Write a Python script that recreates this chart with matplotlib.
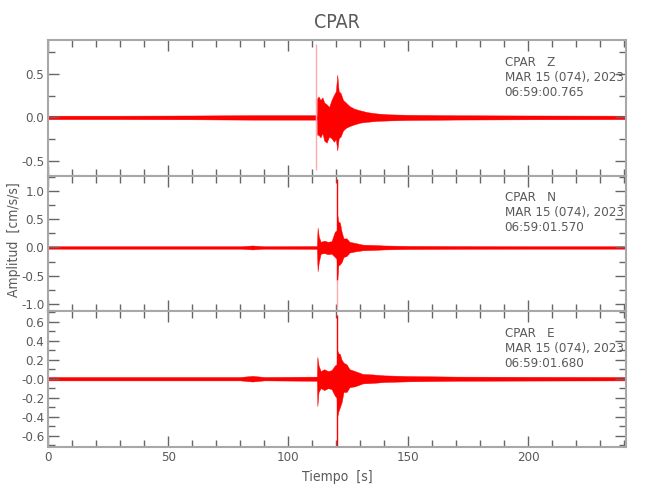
import matplotlib
matplotlib.use("Agg")
from matplotlib import pyplot as plt
from matplotlib.ticker import MultipleLocator

plt.rcParams['font.family'] = ['DejaVu Sans']
plt.rcParams['font.stretch'] = 'condensed'

# envelope of each trace (time [s], upper, lower) in cm/s/s
z_t  = [0, 30, 60, 85, 100, 111.9, 112.0, 112.6, 113.4, 114.2, 115.0, 116.0, 117.0, 118.0, 119.0, 119.8,
        120.4, 121.0, 121.8, 122.8, 124.0, 125.5, 127.5, 130, 133, 137, 142, 150, 170, 200, 241]
z_hi = [.02, .02, .022, .026, .026, .026, .22, .24, .2, .23, .17, .15, .12, .2, .26, .3,
        .49, .3, .28, .2, .17, .13, .1, .08, .06, .045, .035, .03, .025, .022, .02]
z_lo = [-.02, -.02, -.022, -.026, -.026, -.026, -.2, -.2, -.23, -.18, -.27, -.29, -.22, -.24, -.28, -.25,
        -.38, -.24, -.22, -.15, -.12, -.1, -.08, -.06, -.05, -.04, -.035, -.03, -.025, -.022, -.02]

n_t  = [0, 30, 60, 80, 85, 90, 111.9, 112.2, 112.7, 113.5, 115, 116.5, 118, 119.4, 120.1,
        120.4, 120.8, 121.5, 122.2, 123.0, 124.3, 125.5, 127.8, 131, 135, 140, 150, 170, 200, 241]
n_hi = [.022, .022, .022, .022, .035, .022, .025, .35, .19, .1, .12, .1, .11, .28, .3,
        .58, .46, .44, .28, .16, .16, .1, .08, .05, .045, .035, .028, .025, .022, .022]
n_lo = [-.022, -.022, -.022, -.022, -.035, -.022, -.025, -.42, -.26, -.11, -.1, -.12, -.11, -.17, -.2,
        -.58, -.32, -.3, -.26, -.17, -.15, -.09, -.07, -.05, -.045, -.035, -.028, -.025, -.022, -.022]

e_t  = [0, 30, 60, 80, 85, 90, 111.9, 112.1, 112.6, 113.5, 115, 116.5, 118, 119.4, 120.1,
        120.4, 120.8, 121.5, 122.2, 123.0, 124.3, 125.5, 127.8, 131, 135, 140, 150, 170, 200, 241]
e_hi = [.018, .018, .018, .018, .03, .018, .022, .23, .14, .08, .1, .08, .09, .14, .15,
        .3, .27, .26, .2, .17, .15, .1, .08, .05, .045, .035, .028, .022, .02, .018]
e_lo = [-.018, -.018, -.018, -.018, -.03, -.018, -.022, -.29, -.14, -.1, -.12, -.1, -.11, -.18, -.2,
        -.4, -.35, -.3, -.25, -.14, -.14, -.09, -.08, -.05, -.045, -.035, -.028, -.022, -.02, -.018]

# single-sample spikes: time, top, bottom, colour
z_spike = [(111.7, 0.84, -0.61, '#ffaaaa')]
n_spike = [(120.4, 1.21, -0.58, 'red'), (120.3, -0.58, -1.08, '#ffaaaa')]
e_spike = [(120.4, 0.67, -0.8, 'red')]

comps = ['Z', 'N', 'E']
times = ['06:59:00.765', '06:59:01.570', '06:59:01.680']
ylims = [(-0.67, 0.89), (-1.13, 1.27), (-0.72, 0.71)]
ymajor = [0.5, 0.5, 0.2]
yminor = [0.25, 0.25, 0.1]

gray = '#a8a8a8'
tcol = '#5a5a5a'

fig = plt.figure(figsize=(6.5, 5), dpi=100)
left, right = 48.3 / 650, 626 / 650
top, bottom = 1 - 40 / 500, 1 - 447 / 500
h = (top - bottom) / 3

data = [(z_t, z_hi, z_lo, z_spike), (n_t, n_hi, n_lo, n_spike), (e_t, e_hi, e_lo, e_spike)]
axes = []
for i, (t, hi, lo, spikes) in enumerate(data):
    ax = fig.add_axes([left, top - (i + 1) * h, right - left, h])
    ax.fill_between(t, lo, hi, color='red', lw=0.3, edgecolor='red')
    for st, s1, s2, c in spikes:
        ax.vlines(st, s2, s1, color=c, lw=1.0)
    ax.set_xlim(0, 240.7)
    ax.set_ylim(*ylims[i])
    ax.xaxis.set_major_locator(MultipleLocator(50))
    ax.xaxis.set_minor_locator(MultipleLocator(10))
    ax.yaxis.set_major_locator(MultipleLocator(ymajor[i]))
    ax.yaxis.set_minor_locator(MultipleLocator(yminor[i]))
    ax.tick_params(which='both', direction='in', top=True, right=True, color='#666666',
                   labelcolor=tcol, labelsize=9.5, pad=3)
    ax.tick_params(which='major', length=8, width=1.0)
    ax.tick_params(which='minor', length=5, width=1.0)
    for sp in ax.spines.values():
        sp.set_color(gray)
        sp.set_linewidth(1.5)
    if i < 2:
        ax.tick_params(labelbottom=False)
    ax.text(0.79, 0.885, f'CPAR   {comps[i]}\nMAR 15 (074), 2023\n{times[i]}',
            transform=ax.transAxes, ha='left', va='top', fontsize=9.5,
            color=tcol, linespacing=1.2)
    axes.append(ax)

ticks_e = [-0.6, -0.4, -0.2, 0.0, 0.2, 0.4, 0.6]
axes[2].set_yticks(ticks_e, ['-0.6', '-0.4', '-0.2', '-0.0', '0.2', '0.4', '0.6'])
for ax in axes[:2]:
    ax.set_yticklabels([t.get_text().replace('\u2212', '-') for t in ax.get_yticklabels()])
axes[2].set_xlabel('Tiempo  [s]', color=tcol, fontsize=10, labelpad=4)
fig.text(14 / 650, 1 - 240 / 500, 'Amplitud  [cm/s/s]', rotation=90, ha='center', va='center',
         fontsize=10, color=tcol)
fig.text(337 / 650, 1 - 23 / 500, 'CPAR', ha='center', va='center', fontsize=14, color=tcol)

fig.savefig('out.png', dpi=100)
